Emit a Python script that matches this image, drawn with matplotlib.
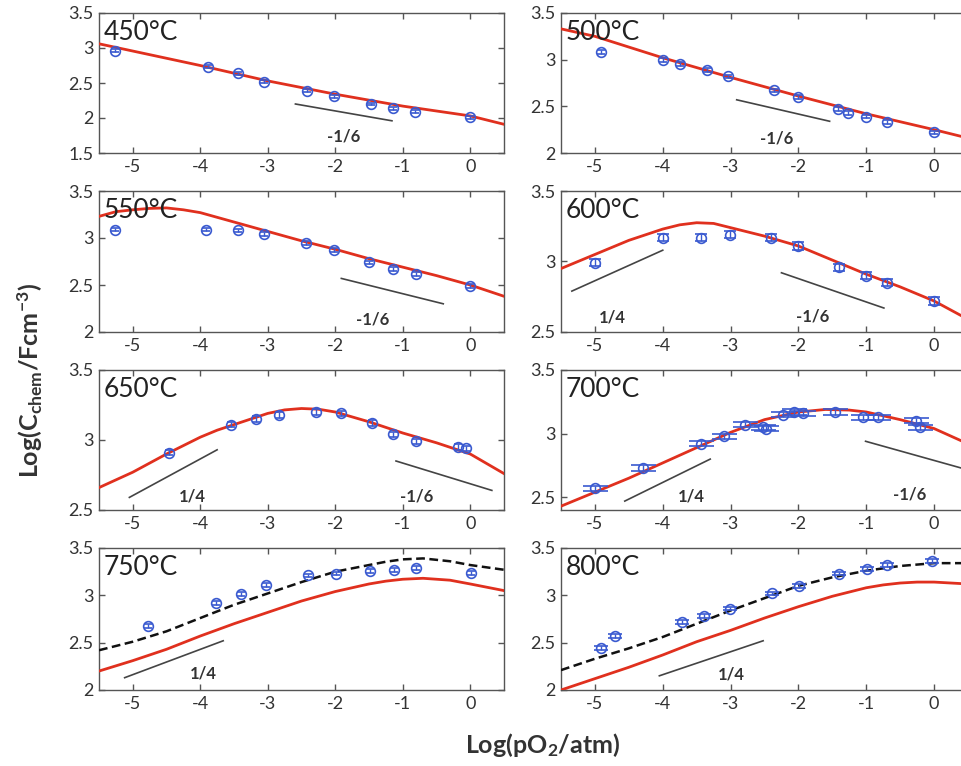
import matplotlib
matplotlib.use("Agg")
import matplotlib.pyplot as plt
import numpy as np

plt.rcParams['font.family'] = ['Lato', 'DejaVu Sans']
plt.rcParams['mathtext.fontset'] = 'custom'
plt.rcParams['mathtext.rm'] = 'Lato'
plt.rcParams['mathtext.bf'] = 'Lato:bold'
plt.rcParams['mathtext.it'] = 'Lato:italic'

# ---------------- data ----------------
temps = ["450", "500", "550", "600", "650", "700", "750", "800"]
ylims = [(1.5, 3.5), (2.0, 3.5), (2.0, 3.5), (2.5, 3.5),
         (2.5, 3.5), (2.4, 3.5), (2.0, 3.5), (2.0, 3.5)]

# measured points
px_450 = [-5.26, -3.89, -3.44, -3.05, -2.42, -2.02, -1.47, -1.15, -0.82, 0.0]
py_450 = [2.96, 2.73, 2.64, 2.52, 2.39, 2.31, 2.20, 2.14, 2.09, 2.01]
px_500 = [-4.91, -3.99, -3.74, -3.35, -3.04, -2.36, -2.00, -1.42, -1.27, -1.00, -0.69, 0.0]
py_500 = [3.08, 3.00, 2.95, 2.89, 2.82, 2.67, 2.60, 2.47, 2.43, 2.39, 2.33, 2.22]
px_550 = [-5.26, -3.91, -3.44, -3.05, -2.44, -2.02, -1.50, -1.15, -0.81, 0.0]
py_550 = [3.09, 3.09, 3.08, 3.04, 2.95, 2.87, 2.74, 2.67, 2.62, 2.49]
px_600 = [-5.00, -3.99, -3.43, -3.01, -2.41, -2.00, -1.40, -1.00, -0.69, 0.0]
py_600 = [2.99, 3.17, 3.17, 3.19, 3.17, 3.11, 2.96, 2.90, 2.85, 2.72]
px_650 = [-4.47, -3.54, -3.18, -2.83, -2.28, -1.91, -1.45, -1.14, -0.81, -0.18, -0.07]
py_650 = [2.91, 3.11, 3.15, 3.18, 3.20, 3.19, 3.12, 3.04, 2.99, 2.95, 2.94]
px_700 = [-5.00, -4.29, -3.43, -3.10, -2.79, -2.52, -2.48, -2.22, -2.07, -1.93,
          -1.46, -1.05, -0.82, -0.26, -0.21]
py_700 = [2.57, 2.73, 2.92, 2.98, 3.07, 3.05, 3.04, 3.15, 3.17, 3.16,
          3.17, 3.13, 3.13, 3.10, 3.05]
px_750 = [-4.78, -3.77, -3.39, -3.03, -2.40, -1.99, -1.49, -1.13, -0.80, 0.01]
py_750 = [2.68, 2.92, 3.01, 3.11, 3.21, 3.23, 3.26, 3.27, 3.29, 3.24]
px_800 = [-4.91, -4.70, -3.71, -3.39, -3.01, -2.39, -1.99, -1.40, -0.99, -0.70, -0.03]
py_800 = [2.44, 2.57, 2.72, 2.78, 2.86, 3.02, 3.10, 3.23, 3.28, 3.32, 3.36]

# model (red) curves
fx_450 = [-5.5, -4.0, -3.0, -2.0, -1.0, 0.0, 0.5]
fy_450 = [3.06, 2.75, 2.53, 2.34, 2.17, 2.03, 1.91]
fx_500 = [-5.5, -5.0, -4.0, -3.0, -2.0, -1.0, 0.0, 0.5]
fy_500 = [3.33, 3.25, 3.02, 2.81, 2.61, 2.42, 2.25, 2.16]
fx_550 = [-5.5, -5.25, -5.0, -4.75, -4.5, -4.25, -4.0, -3.75, -3.5, -3.0, -2.5,
          -2.0, -1.5, -1.0, -0.5, 0.0, 0.5]
fy_550 = [3.23, 3.28, 3.30, 3.315, 3.32, 3.30, 3.27, 3.22, 3.17, 3.07, 2.97,
          2.88, 2.78, 2.69, 2.60, 2.50, 2.38]
fx_600 = [-5.5, -5.0, -4.5, -4.0, -3.75, -3.5, -3.25, -3.0, -2.5, -2.0, -1.5,
          -1.0, -0.5, 0.0, 0.5]
fy_600 = [2.95, 3.05, 3.15, 3.23, 3.26, 3.275, 3.27, 3.24, 3.18, 3.11, 3.01,
          2.91, 2.82, 2.72, 2.59]
fx_650 = [-5.5, -5.0, -4.5, -4.0, -3.75, -3.5, -3.25, -3.0, -2.75, -2.5, -2.25,
          -2.0, -1.5, -1.0, -0.5, 0.0, 0.5]
fy_650 = [2.66, 2.77, 2.90, 3.02, 3.07, 3.11, 3.15, 3.19, 3.215, 3.225, 3.22,
          3.20, 3.13, 3.05, 2.98, 2.90, 2.76]
fx_700 = [-5.5, -5.0, -4.5, -4.0, -3.5, -3.0, -2.5, -2.0, -1.6, -1.25, -1.0,
          -0.5, 0.0, 0.5]
fy_700 = [2.43, 2.54, 2.65, 2.77, 2.89, 3.01, 3.11, 3.17, 3.19, 3.185, 3.17,
          3.11, 3.04, 2.92]
fx_750 = [-5.5, -5.0, -4.5, -4.0, -3.5, -3.0, -2.5, -2.0, -1.5, -1.25, -1.0,
          -0.7, -0.3, 0.0, 0.5]
fy_750 = [2.20, 2.31, 2.43, 2.57, 2.70, 2.82, 2.94, 3.04, 3.12, 3.15, 3.17,
          3.18, 3.16, 3.12, 3.05]
fx_800 = [-5.5, -5.0, -4.5, -4.0, -3.5, -3.0, -2.5, -2.0, -1.5, -1.0, -0.75,
          -0.5, -0.25, 0.0, 0.5]
fy_800 = [2.00, 2.12, 2.24, 2.37, 2.51, 2.63, 2.76, 2.88, 2.99, 3.08, 3.11,
          3.13, 3.14, 3.14, 3.12]

# dashed (black) curves
dx_750 = [-5.5, -5.0, -4.5, -4.0, -3.5, -3.0, -2.5, -2.0, -1.5, -1.25, -1.0,
          -0.7, -0.3, 0.0, 0.5]
dy_750 = [2.42, 2.51, 2.62, 2.76, 2.90, 3.02, 3.14, 3.25, 3.32, 3.355, 3.38,
          3.39, 3.36, 3.32, 3.27]
dx_800 = [-5.5, -5.0, -4.5, -4.0, -3.5, -3.0, -2.5, -2.0, -1.5, -1.0, -0.5, 0.0, 0.5]
dy_800 = [2.21, 2.33, 2.44, 2.56, 2.70, 2.84, 2.97, 3.10, 3.19, 3.26, 3.31, 3.34, 3.34]

# slope guide lines: (x0, x1, y0, y1, label, label_x, label_y)
slopes_450 = [(-2.59, -1.16, 2.20, 1.96, "-1/6", -1.88, 1.74)]
slopes_500 = [(-2.91, -1.54, 2.57, 2.34, "-1/6", -2.32, 2.16)]
slopes_550 = [(-1.91, -0.40, 2.57, 2.30, "-1/6", -1.44, 2.13)]
slopes_600 = [(-5.34, -4.00, 2.79, 3.08, "1/4", -4.75, 2.60),
              (-2.25, -0.74, 2.92, 2.67, "-1/6", -1.79, 2.61)]
slopes_650 = [(-5.05, -3.75, 2.59, 2.93, "1/4", -4.11, 2.60),
              (-1.10, 0.32, 2.85, 2.64, "-1/6", -0.80, 2.60)]
slopes_700 = [(-4.56, -3.30, 2.47, 2.80, "1/4", -3.58, 2.51),
              (-1.01, 0.60, 2.94, 2.70, "-1/6", -0.36, 2.52)]
slopes_750 = [(-5.12, -3.66, 2.13, 2.52, "1/4", -3.96, 2.17)]
slopes_800 = [(-4.05, -2.52, 2.15, 2.52, "1/4", -2.99, 2.16)]

yerrs = [0.02, 0.02, 0.02, 0.025, 0.02, 0.02, 0.02, 0.02]
capsizes = [3, 3, 3, 4, 3, 9, 3, 5]

px_all = [px_450, px_500, px_550, px_600, px_650, px_700, px_750, px_800]
py_all = [py_450, py_500, py_550, py_600, py_650, py_700, py_750, py_800]
fx_all = [fx_450, fx_500, fx_550, fx_600, fx_650, fx_700, fx_750, fx_800]
fy_all = [fy_450, fy_500, fy_550, fy_600, fy_650, fy_700, fy_750, fy_800]
dash_all = [None] * 6 + [(dx_750, dy_750), (dx_800, dy_800)]
slopes_all = [slopes_450, slopes_500, slopes_550, slopes_600,
              slopes_650, slopes_700, slopes_750, slopes_800]

# ---------------- layout ----------------
W, H = 962, 766
fig = plt.figure(figsize=(W / 100, H / 100), dpi=100)

col_x = [(99, 504), (561, 968)]
row_y = [(13, 153), (191, 332), (370, 510), (548, 690)]

blue = "#3a5ad0"
red = "#e0301e"
gray_text = "#333333"

for i, t in enumerate(temps):
    r, c = divmod(i, 2)
    x0, x1 = col_x[c]
    y0, y1 = row_y[r]
    ax = fig.add_axes([x0 / W, 1 - y1 / H, (x1 - x0) / W, (y1 - y0) / H])
    ax.set_xlim(-5.5, 0.5)
    ax.set_ylim(*ylims[i])

    ax.plot(fx_all[i], fy_all[i], color=red, lw=2.0, zorder=3,
            solid_joinstyle='round')
    if dash_all[i] is not None:
        dx, dy = dash_all[i]
        ax.plot(dx, dy, color="#111111", lw=1.8, ls=(0, (3.5, 1.8)), zorder=3)

    ax.errorbar(px_all[i], py_all[i], yerr=yerrs[i], fmt='o', ms=7,
                mfc='none', mec=blue, mew=1.2, ecolor=blue, elinewidth=1.0,
                capsize=capsizes[i], capthick=1.0, zorder=4)

    for (sx0, sx1, sy0, sy1, lab, lx, ly) in slopes_all[i]:
        ax.plot([sx0, sx1], [sy0, sy1], color="#444444", lw=1.2, zorder=2)
        ax.text(lx, ly, lab, ha='center', va='center', fontsize=12,
                fontweight='bold', color=gray_text)

    ax.text(0.012, 0.95, f"{t}\u00b0C", transform=ax.transAxes, ha='left',
            va='top', fontsize=19, color="#222222", zorder=5)

    ax.set_xticks([-5, -4, -3, -2, -1, 0])
    ax.set_xticklabels(["-5", "-4", "-3", "-2", "-1", "0"])
    lo, hi = ylims[i]
    yt = np.arange(np.ceil(lo * 2) / 2, hi + 1e-9, 0.5)
    ax.set_yticks(yt)
    ax.set_yticklabels([f"{v:g}" for v in yt])
    ax.tick_params(direction='in', top=True, right=True, length=4,
                   width=1, color="#555555", labelsize=13,
                   labelcolor=gray_text, pad=4)
    for sp in ax.spines.values():
        sp.set_color("#555555")
        sp.set_linewidth(1.0)

fig.text(30 / W, 1 - 381 / H, r"Log(C$_{\mathbf{chem}}$/Fcm$^{\mathbf{-3}}$)",
         rotation=90, ha='center', va='center', fontsize=18,
         fontweight='bold', color="#333333")
fig.text(543 / W, 1 - 745 / H, r"Log(pO$_{\mathbf{2}}$/atm)",
         ha='center', va='center', fontsize=18, fontweight='bold',
         color="#333333")

fig.savefig("out.png", dpi=100)
